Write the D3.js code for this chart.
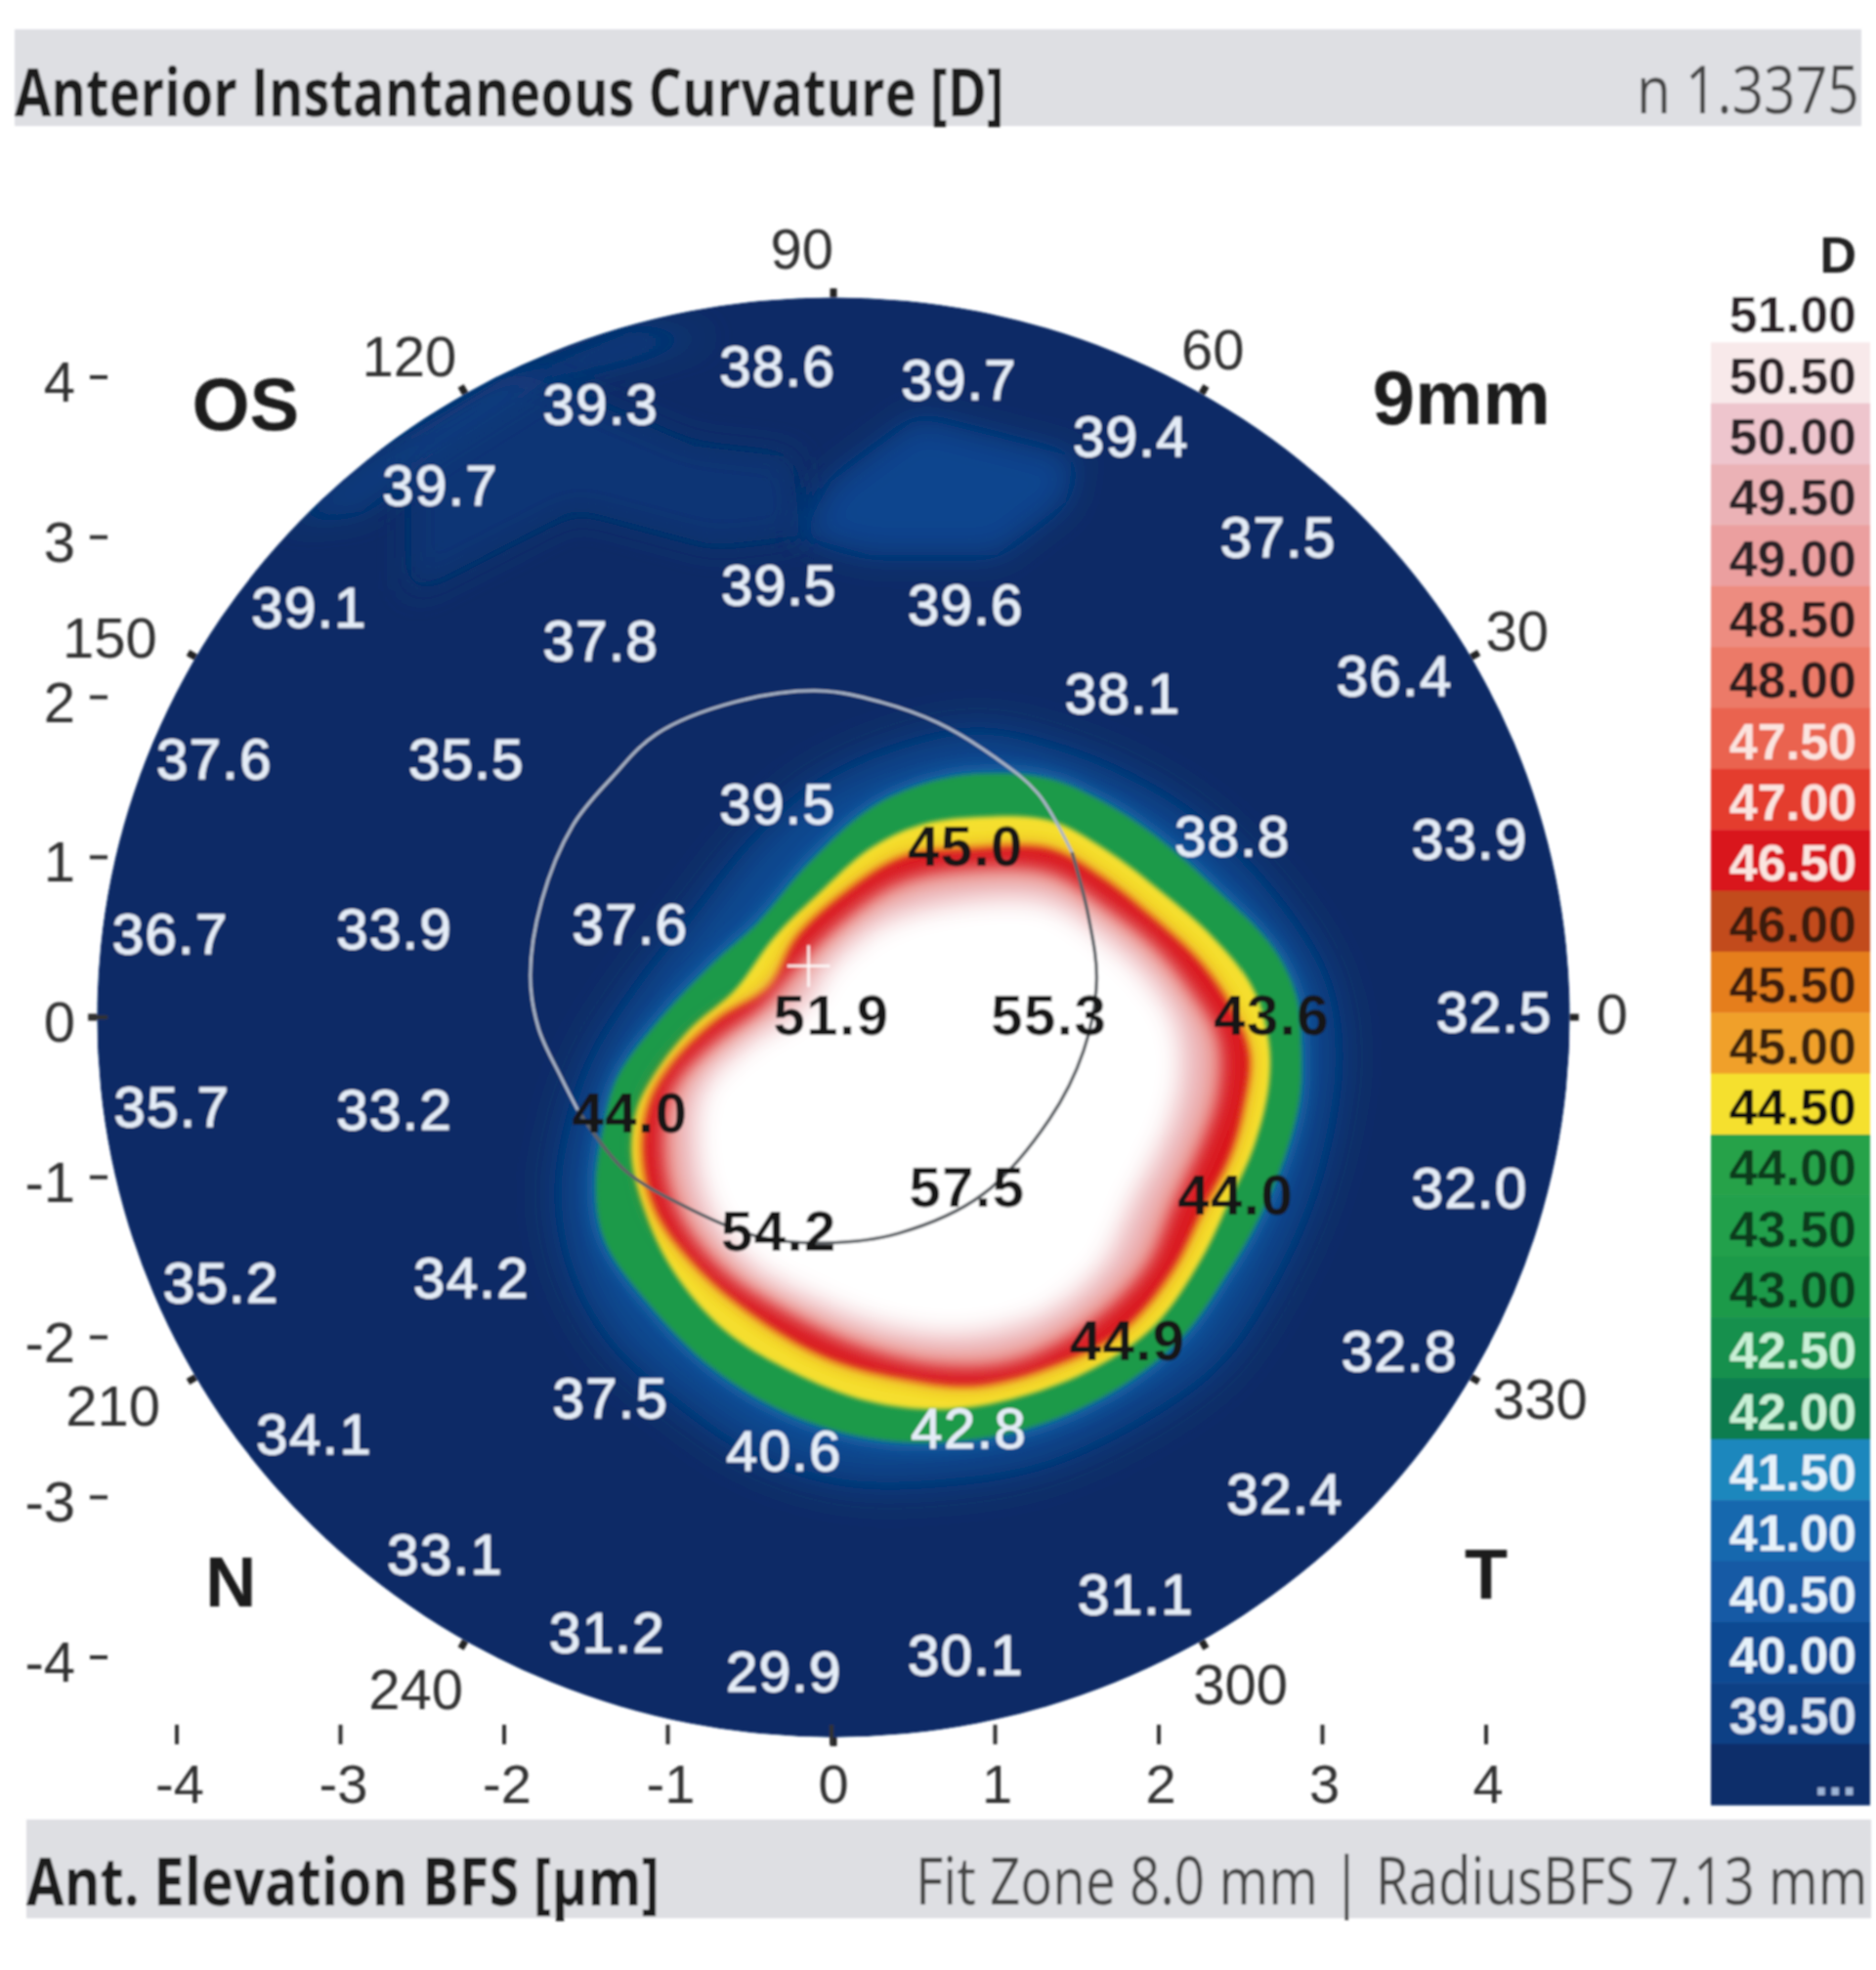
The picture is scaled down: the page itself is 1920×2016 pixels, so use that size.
<!DOCTYPE html>
<html><head><meta charset="utf-8">
<style>html,body{margin:0;padding:0;background:#fff}svg{display:block}</style>
<script src="https://cdn.jsdelivr.net/npm/d3@7"></script></head><body>
<svg id="c" width="1920" height="2016"></svg>
<script>
// Legend
const levelLabels=["51.00","50.50","50.00","49.50","49.00","48.50","48.00","47.50","47.00","46.50","46.00","45.50","45.00","44.50","44.00","43.50","43.00","42.50","42.00","41.50","41.00","40.50","40.00","39.50","..."];
const levelColors=["#ffffff","#f8e9ea","#eec5cd","#ebb2b6","#eb9f9f","#ed8c80","#ec7a68","#ea6350","#e43d2f","#d9171f","#c24b1c","#e57e1e","#f0a02c","#f5e02e","#27a24a","#22a04c","#1d9a4a","#17904e","#0e7d50","#1f87bd","#1668ae","#155aa5","#0f4a92","#0d3f85","#0b2e6a"];
const levelTextColors=["#2a2426","#2a2426","#2a2426","#2a2426","#2a2426","#2a1c1c","#2a1c1c","#fbe4df","#fbe4df","#fbe4df","#3a1a10","#3a1f10","#3a2410","#111111","#0a3a1e","#0a3a1e","#0a3a1e","#c9f0d6","#c9f0d6","#e6f2fa","#e6f2fa","#e6f2fa","#e6f2fa","#d9e4f2","#9fb6d8"];
// Map readings
const valueNumbers=[38.6,39.7,39.3,39.4,39.7,37.5,39.5,39.6,39.1,37.8,36.4,38.1,37.6,35.5,39.5,38.8,33.9,45.0,37.6,36.7,33.9,51.9,55.3,43.6,32.5,35.7,33.2,44.0,32.0,57.5,44.0,54.2,35.2,34.2,32.8,44.9,37.5,34.1,42.8,40.6,32.4,33.1,31.1,31.2,29.9,30.1];
const valueX=[-.33,.78,-1.41,1.83,-2.39,2.73,-.32,.82,-3.19,-1.41,3.44,1.78,-3.77,-2.23,-.33,2.45,3.90,.82,-1.23,-4.04,-2.67,0,1.33,2.69,4.05,-4.03,-2.67,-1.23,3.90,.83,2.47,-.32,-3.73,-2.20,3.47,1.81,-1.35,-3.16,.84,-.29,2.77,-2.36,1.86,-1.37,-.29,.82];
const valueY=[4.07,3.98,3.83,3.63,3.32,3.00,2.70,2.58,2.56,2.35,2.13,2.02,1.61,1.61,1.33,1.13,1.11,1.07,.58,.52,.55,.01,.01,.01,.03,-.56,-.58,-.60,-1.07,-1.06,-1.11,-1.34,-1.66,-1.63,-2.09,-2.02,-2.38,-2.61,-2.57,-2.71,-2.98,-3.36,-3.61,-3.85,-4.09,-3.99];
// Axes
const axisTicks=[-4,-3,-2,-1,0,1,2,3,4];
const angleTicks=[0,30,60,90,120,150,180,210,240,270,300,330];
const angleLabels=["90","60","30","0","330","300","240","210","150","120"];
const angleLabelX=[-.18,2.33,4.19,4.77,4.33,2.50,-2.54,-4.39,-4.41,-2.58];
const angleLabelY=[4.80,4.17,2.41,.02,-2.39,-4.17,-4.20,-2.43,2.37,4.13];
const diskRadiusMm=4.5;
// Iso-curvature contours, [x mm, y mm]
const contourHalo=[[.885,1.77],[1.37,1.67],[1.85,1.47],[2.26,1.20],[2.70,.74],[3.01,.23],[3.08,-.21],[3.04,-.64],[2.91,-1.15],[2.67,-1.68],[2.36,-2.15],[1.85,-2.52],[1.26,-2.79],[.65,-2.89],[.10,-2.89],[-.45,-2.72],[-.93,-2.39],[-1.34,-2.01],[-1.58,-1.55],[-1.65,-1.08],[-1.58,-.64],[-1.44,-.24],[-1.17,.19],[-.83,.63],[-.49,1.07],[-.14,1.40],[.30,1.63]];
const contourGreen=[[.885,1.52],[1.33,1.49],[1.67,1.34],[2.02,1.10],[2.36,.79],[2.70,.43],[2.84,.13],[2.87,-.21],[2.86,-.51],[2.77,-.87],[2.60,-1.28],[2.43,-1.58],[2.15,-1.99],[1.78,-2.30],[1.26,-2.55],[.75,-2.65],[.23,-2.63],[-.28,-2.47],[-.73,-2.19],[-1.10,-1.81],[-1.38,-1.41],[-1.44,-1.08],[-1.39,-.67],[-1.31,-.38],[-1.07,-.04],[-.73,.33],[-.45,.59],[-.14,.96],[.23,1.30],[.54,1.45]];
const contourYellow=[[.885,1.25],[1.33,1.23],[1.67,1.05],[2.02,.78],[2.33,.50],[2.57,.19],[2.67,-.14],[2.67,-.44],[2.58,-.81],[2.43,-1.15],[2.26,-1.51],[1.98,-1.92],[1.61,-2.19],[1.16,-2.37],[.71,-2.45],[.23,-2.40],[-.25,-2.21],[-.66,-1.95],[-.97,-1.58],[-1.14,-1.21],[-1.22,-.87],[-1.19,-.58],[-1.07,-.34],[-.86,-.07],[-.59,.17],[-.35,.50],[-.07,.78],[.23,1.05],[.54,1.20]];
const contourRed=[[.85,1.05],[1.33,1.05],[1.64,.88],[1.95,.63],[2.26,.33],[2.46,.02],[2.55,-.24],[2.51,-.58],[2.43,-.87],[2.26,-1.21],[2.08,-1.58],[1.78,-1.95],[1.37,-2.17],[.885,-2.30],[.41,-2.25],[-.04,-2.12],[-.49,-1.85],[-.83,-1.55],[-1.07,-1.21],[-1.15,-.84],[-1.10,-.51],[-.93,-.24],[-.69,-.01],[-.38,.19],[-.21,.50],[.10,.79],[.44,1.00]];
const contourPink=[[.83,.90],[1.33,.88],[1.64,.68],[1.95,.43],[2.19,.13],[2.34,-.14],[2.34,-.47],[2.24,-.78],[2.07,-1.15],[1.90,-1.55],[1.55,-1.90],[1.09,-2.13],[.65,-2.15],[.17,-2.03],[-.28,-1.81],[-.66,-1.55],[-.91,-1.22],[-1.00,-.86],[-.95,-.47],[-.71,-.19],[-.42,.03],[-.25,.23],[.03,.53],[.41,.81]];
const contourWhite=[[.82,.73],[1.33,.72],[1.67,.50],[1.95,.23],[2.12,-.07],[2.14,-.41],[2.05,-.74],[1.85,-1.15],[1.67,-1.55],[1.33,-1.85],[.85,-1.99],[.37,-1.95],[-.07,-1.79],[-.49,-1.55],[-.73,-1.24],[-.83,-.87],[-.79,-.44],[-.49,-.14],[-.18,.06],[-.01,.33],[.30,.59]];
// Faint tonal patches in the far field
const patchDiamond=[[.53,3.75],[1.49,3.50],[1.43,3.22],[1.01,2.89],[.23,2.89],[-.19,3.01],[0,3.35]];
const patchMiddle=[[-2.57,3.63],[-1.92,4.04],[-.84,3.57],[-.24,3.50],[-.19,3.01],[-.72,2.95],[-1.56,3.18],[-2.57,2.65]];
const patchEdge=[[-3.35,3.10],[-2.75,3.55],[-2.04,3.98],[-1.20,4.30],[-.72,4.26],[-1.74,3.96],[-2.46,3.50],[-2.87,3.16]];
// Thin measured curve
const curveUpper=[[-1.55,-.58],[-1.65,-.38],[-1.79,-.07],[-1.84,.26],[-1.77,.73],[-1.58,1.20],[-1.34,1.50],[-1.07,1.77],[-.59,1.97],[-.07,2.04],[.30,1.97],[.65,1.84],[.99,1.63],[1.26,1.40],[1.47,1.03]];
const curveLower=[[1.47,1.03],[1.57,.63],[1.62,.23],[1.54,-.21],[1.33,-.64],[.92,-1.11],[.41,-1.35],[-.04,-1.41],[-.45,-1.37],[-.90,-1.18],[-1.27,-.95],[-1.55,-.58]];
const crossMark=[-.14,.32];

const titleTop="Anterior Instantaneous Curvature [D]", titleTopRight="n 1.3375";
const titleBottom="Ant. Elevation BFS [µm]", titleBottomRight="Fit Zone 8.0 mm | RadiusBFS 7.13 mm";

const svg=d3.select("#c");
const x=d3.scaleLinear().domain([-4,4]).range([181,1521]);
const y=d3.scaleLinear().domain([-4,4]).range([1696,386]);
const colour=d3.scaleOrdinal(levelLabels,levelColors);
const sans="'Liberation Sans',Arial,sans-serif", head="'Open Sans','Noto Sans',sans-serif";

const defs=svg.append("defs");
function blur(id,s){defs.append("filter").attr("id",id).attr("filterUnits","userSpaceOnUse").attr("x",0).attr("y",0).attr("width",1920).attr("height",2016).append("feGaussianBlur").attr("stdDeviation",s);}
[["b1",1],["b2",2.2],["b3",3.5],["b7",7],["b10",10],["b12",13],["b18",16],["b24",22]].forEach(d=>blur(d[0],d[1]));
const diskRx=x(diskRadiusMm)-x(0), diskRy=y(0)-y(diskRadiusMm);
defs.append("clipPath").attr("id","disk").append("ellipse").attr("cx",x(0)+2).attr("cy",y(0)).attr("rx",diskRx).attr("ry",diskRy);

const root=svg.append("g").attr("filter","url(#b1)");

// Header bars
[[15,30,1890,99],[27,1862,1888,101]].forEach(b=>root.append("rect").attr("x",b[0]).attr("y",b[1]).attr("width",b[2]).attr("height",b[3]).attr("fill","#dedfe3"));
function head1(t,xl,w,yb,wt,col){
  const n=root.append("text").text(t).attr("font-family",head).attr("font-size",68).attr("font-weight",wt).attr("fill",col);
  n.attr("transform","translate("+xl+","+yb+") scale("+(w/n.node().getComputedTextLength())+",1)");
}
head1(titleTop,15,1013,119,700,"#1f1f1f");
head1(titleTopRight,1675,228,116,400,"#444444");
head1(titleBottom,27,648,1950,700,"#1f1f1f");
head1(titleBottomRight,937,975,1949,400,"#444444");

// Field
const field=root.append("g").attr("clip-path","url(#disk)");
field.append("ellipse").attr("cx",x(0)+2).attr("cy",y(0)).attr("rx",diskRx).attr("ry",diskRy).attr("fill","#0a2c66");
const closed=d3.line().x(d=>x(d[0])).y(d=>y(d[1])).curve(d3.curveCatmullRomClosed.alpha(.5));
const poly=d3.line().x(d=>x(d[0])).y(d=>y(d[1])).curve(d3.curveLinearClosed);
[[patchMiddle,"#0c3574"],[patchEdge,"#0f3d80"],[patchDiamond,"#0e448e"]].forEach(p=>
  field.append("path").attr("d",poly(p[0])).attr("fill",p[1]).attr("filter","url(#b18)"));
[[contourHalo,"40.00","b24"],[contourGreen,"41.50","b10"],[contourGreen,"43.00","b2"],[contourYellow,"44.50","b2"],[contourRed,"45.50","b10"],[contourRed,"46.50","b3"],[contourPink,"48.00","b7"],[contourPink,"49.50","b12"],[contourWhite,"51.00","b12"]].forEach(l=>
  field.append("path").attr("d",closed(l[0])).attr("fill",colour(l[1])).attr("filter","url(#"+l[2]+")"));

// Measured curve and cross
const open=d3.line().x(d=>x(d[0])).y(d=>y(d[1])).curve(d3.curveCatmullRom.alpha(.5));
root.append("path").attr("d",open(curveUpper)).attr("fill","none").attr("stroke","#a9b4c6").attr("stroke-width",3);
root.append("path").attr("d",open(curveLower)).attr("fill","none").attr("stroke","#5f6368").attr("stroke-width",3.5);
[[[crossMark[0]-.13,crossMark[1]],[crossMark[0]+.13,crossMark[1]]],[[crossMark[0],crossMark[1]-.13],[crossMark[0],crossMark[1]+.13]]].forEach(s=>
  root.append("line").attr("x1",x(s[0][0])).attr("y1",y(s[0][1])).attr("x2",x(s[1][0])).attr("y2",y(s[1][1])).attr("stroke","#fff").attr("stroke-width",3).attr("opacity",.8));

// Value labels
root.append("g").selectAll("text").data(valueNumbers).join("text")
 .attr("x",(d,i)=>x(valueX[i])).attr("y",(d,i)=>y(valueY[i])+20)
 .attr("text-anchor","middle").attr("font-family",sans).attr("font-size",58).attr("letter-spacing",1.5).attr("font-weight",(d)=>d>=43?700:400)
 .attr("stroke",d=>d>=43?"none":"#e4ecf7").attr("stroke-width",d=>d>=43?0:1)
 .attr("fill",d=>d>=43?"#171717":"#e4ecf7").text(d=>d.toFixed(1));

// Angular ticks
root.append("g").selectAll("line").data(angleTicks).join("line")
 .attr("x1",d=>x(0)+2+diskRx*Math.cos(d*Math.PI/180)).attr("y1",d=>y(0)-diskRy*Math.sin(d*Math.PI/180))
 .attr("x2",d=>x(0)+2+(diskRx+9)*Math.cos(d*Math.PI/180)).attr("y2",d=>y(0)-(diskRy+9)*Math.sin(d*Math.PI/180))
 .attr("stroke","#222").attr("stroke-width",7);
root.append("g").selectAll("text").data(angleLabels).join("text")
 .attr("x",(d,i)=>x(angleLabelX[i])).attr("y",(d,i)=>y(angleLabelY[i])+20)
 .attr("text-anchor","middle").attr("font-family",sans).attr("font-size",58).attr("fill","#333").text(d=>d);

// Axes
const xAxis=root.append("g");
xAxis.selectAll("line").data(axisTicks).join("line").attr("x1",d=>x(d)).attr("x2",d=>x(d)).attr("y1",1765).attr("y2",1785).attr("stroke","#333").attr("stroke-width",4);
xAxis.selectAll("text").data(axisTicks).join("text").attr("x",d=>x(d)+(d<0?3:2)).attr("y",1845).attr("text-anchor","middle").attr("font-family",sans).attr("font-size",56).attr("fill","#333").text(d=>d);
const yAxis=root.append("g");
yAxis.selectAll("line").data(axisTicks).join("line").attr("x1",92).attr("x2",110).attr("y1",d=>y(d)).attr("y2",d=>y(d)).attr("stroke","#333").attr("stroke-width",4);
yAxis.selectAll("text").data(axisTicks).join("text").attr("x",77).attr("y",d=>y(d)+25).attr("text-anchor","end").attr("font-family",sans).attr("font-size",58).attr("fill","#333").text(d=>d);

// Corner marks
[["OS",-3.58,3.82,76],["9mm",3.85,3.86,78],["N",-3.67,-3.53,72],["T",4.0,-3.48,72]].forEach(c=>
 root.append("text").text(c[0]).attr("x",x(c[1])).attr("y",y(c[2])+25).attr("text-anchor","middle").attr("font-family",sans).attr("font-weight",700).attr("font-size",c[3]).attr("fill","#1a1a1a"));

// Legend
const band=d3.scaleBand().domain(levelLabels).range([288,1847]);
const legend=root.append("g");
legend.selectAll("rect").data(levelLabels).join("rect").attr("x",1751).attr("width",163).attr("y",d=>band(d)).attr("height",band.bandwidth()+.5).attr("fill",d=>colour(d));
legend.selectAll("text").data(levelLabels).join("text").attr("x",1900).attr("y",d=>band(d)+band.bandwidth()/2+21).attr("text-anchor","end").attr("font-family",sans).attr("font-weight",700).attr("font-size",52).attr("fill",(d,i)=>levelTextColors[i]).text(d=>d);
legend.append("text").text("D").attr("x",1900).attr("y",279).attr("text-anchor","end").attr("font-family",sans).attr("font-weight",700).attr("font-size",52).attr("fill","#222");
</script></body></html>
